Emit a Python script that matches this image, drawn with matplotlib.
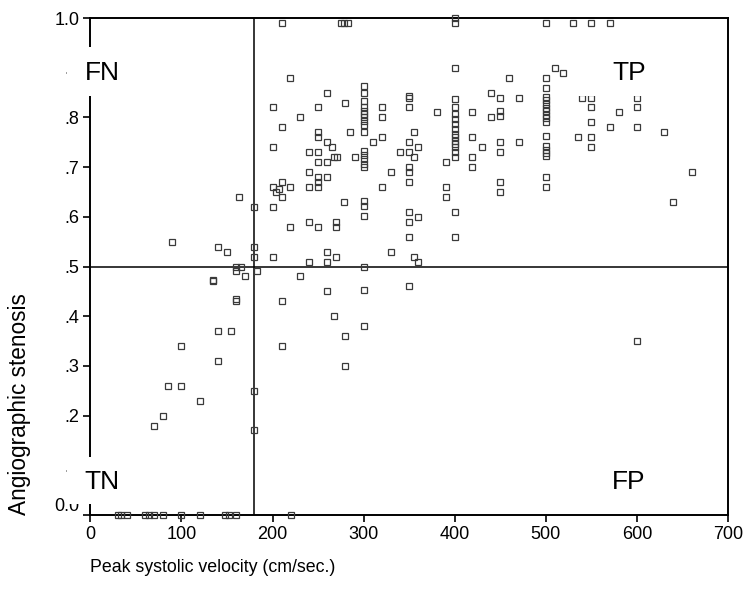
import matplotlib
matplotlib.use("Agg")
import matplotlib.pyplot as plt
from matplotlib.patches import Rectangle

plt.rcParams['font.family'] = ['Liberation Sans', 'DejaVu Sans']

# velocity (cm/sec) and angiographic stenosis, grouped roughly by column
velocity = (
    [30, 34, 40, 60, 64, 70, 80, 100, 120, 148, 152, 160, 220]
    + [70, 80, 85, 100, 100, 120, 140, 140, 155, 160, 160, 135, 135,
       160, 160, 165, 170, 90, 140, 150, 163]
    + [180, 180, 183, 180, 180, 180]
    + [200, 200, 200, 204, 207, 210, 210, 210, 210, 219, 219, 230,
       200, 200, 210, 230, 219, 210]
    + [240, 240, 240, 240, 240]
    + [250] * 9
    + [260, 260, 265, 260, 260, 260, 260, 260]
    + [268, 271, 270, 270, 270, 268]
    + [275, 279, 283]
    + [280, 278, 280, 280, 285, 290]
    + [300] * 21
    + [310, 320, 320, 320, 320, 330, 330, 340]
    + [350] * 12
    + [355, 355, 355, 360, 360, 360, 380, 390, 390, 390]
    + [400] * 18
    + [419, 419, 419, 419, 430, 440, 440]
    + [450] * 7
    + [460, 470, 470]
    + [500] * 18
    + [510, 519, 530, 535, 540]
    + [550] * 6
    + [570, 570, 580, 600, 600, 600, 600, 630, 640, 660]
)

stenosis = (
    [0.0] * 13
    + [0.18, 0.20, 0.26, 0.26, 0.34, 0.23, 0.31, 0.37, 0.37, 0.43, 0.435,
       0.47, 0.472, 0.49, 0.50, 0.50, 0.48, 0.55, 0.54, 0.53, 0.64]
    + [0.17, 0.25, 0.49, 0.52, 0.54, 0.62]
    + [0.52, 0.62, 0.66, 0.65, 0.655, 0.67, 0.64, 0.43, 0.34, 0.66, 0.58,
       0.48, 0.74, 0.82, 0.78, 0.80, 0.88, 0.99]
    + [0.73, 0.69, 0.66, 0.59, 0.51]
    + [0.82, 0.77, 0.76, 0.73, 0.71, 0.68, 0.67, 0.66, 0.58]
    + [0.85, 0.75, 0.74, 0.71, 0.68, 0.53, 0.51, 0.45]
    + [0.72, 0.72, 0.59, 0.58, 0.52, 0.40]
    + [0.99, 0.99, 0.99]
    + [0.83, 0.63, 0.36, 0.30, 0.77, 0.72]
    + [0.863, 0.849, 0.833, 0.821, 0.813, 0.806, 0.80, 0.793, 0.784, 0.77,
       0.733, 0.725, 0.716, 0.707, 0.70, 0.631, 0.622, 0.601, 0.50, 0.453,
       0.381]
    + [0.75, 0.82, 0.80, 0.76, 0.66, 0.69, 0.53, 0.73]
    + [0.84, 0.843, 0.82, 0.75, 0.73, 0.70, 0.69, 0.67, 0.61, 0.59, 0.56,
       0.46]
    + [0.77, 0.72, 0.52, 0.74, 0.60, 0.51, 0.81, 0.71, 0.66, 0.64]
    + [1.0, 0.99, 0.90, 0.837, 0.82, 0.807, 0.797, 0.787, 0.777, 0.767,
       0.76, 0.753, 0.747, 0.74, 0.731, 0.72, 0.61, 0.56]
    + [0.81, 0.76, 0.72, 0.70, 0.74, 0.85, 0.80]
    + [0.84, 0.813, 0.802, 0.75, 0.73, 0.67, 0.65]
    + [0.88, 0.84, 0.75]
    + [0.99, 0.88, 0.86, 0.841, 0.835, 0.827, 0.819, 0.813, 0.805, 0.799,
       0.79, 0.762, 0.743, 0.735, 0.728, 0.722, 0.681, 0.66]
    + [0.90, 0.89, 0.99, 0.76, 0.84]
    + [0.99, 0.84, 0.82, 0.79, 0.76, 0.74]
    + [0.99, 0.78, 0.81, 0.84, 0.82, 0.78, 0.35, 0.77, 0.63, 0.69]
)

x_ticks = [0, 100, 200, 300, 400, 500, 600, 700]
y_ticks = [0.0, 0.1, 0.2, 0.3, 0.4, 0.5, 0.6, 0.7, 0.8, 0.9, 1.0]
y_tick_labels = ["0.0", ".1", ".2", ".3", ".4", ".5", ".6", ".7", ".8", ".9", "1.0"]

cut_velocity = 180
cut_stenosis = 0.5

# quadrant labels: text, position, white box (x0, x1, y0, y1)
quadrants = [
    ("FN", 13, 0.89, (-25, 60, 0.843, 0.942)),
    ("TP", 591, 0.89, (530, 655, 0.843, 0.942)),
    ("TN", 13, 0.067, (-25, 60, 0.023, 0.117)),
    ("FP", 591, 0.066, (530, 655, 0.023, 0.117)),
]

fig = plt.figure(figsize=(7.46, 6.07), dpi=100)
ax = fig.add_axes([0.121, 0.1516, 0.855, 0.8187])

ax.plot(velocity, stenosis, linestyle="none", marker="s", markersize=4.5,
        markerfacecolor="none", markeredgecolor="#3a3a3a", markeredgewidth=0.9,
        clip_on=False, zorder=3)

ax.axvline(cut_velocity, color="black", linewidth=1.1, zorder=2)
ax.axhline(cut_stenosis, color="black", linewidth=1.1, zorder=2)

for label, tx, ty, (x0, x1, y0, y1) in quadrants:
    ax.add_patch(Rectangle((x0, y0), x1 - x0, y1 - y0, facecolor="white",
                           edgecolor="none", clip_on=False, zorder=8))
    ax.text(tx, ty, label, fontsize=19, ha="center", va="center",
            clip_on=False, zorder=9)

ax.set_xlim(0, 700)
ax.set_ylim(0, 1.0)
ax.set_xticks(x_ticks)
ax.set_xticklabels([str(t) for t in x_ticks])
ax.set_yticks(y_ticks)
ax.set_yticklabels(y_tick_labels)
ax.tick_params(direction="out", length=5, width=1.2, labelsize=13, pad=3)
# the bottom label sits above its tick, as in the source chart
ax.get_yticklabels()[0].set_verticalalignment("bottom")

for sp in ax.spines.values():
    sp.set_linewidth(1.4)
    sp.set_color("black")

fig.text(20 / 746, 1 - 515 / 607, "Angiographic stenosis", rotation=90,
         ha="center", va="bottom", fontsize=16.3)
fig.text(90 / 746, 1 - 567 / 607, "Peak systolic velocity (cm/sec.)",
         ha="left", va="center", fontsize=12.8)

fig.savefig("out.png", dpi=100)
